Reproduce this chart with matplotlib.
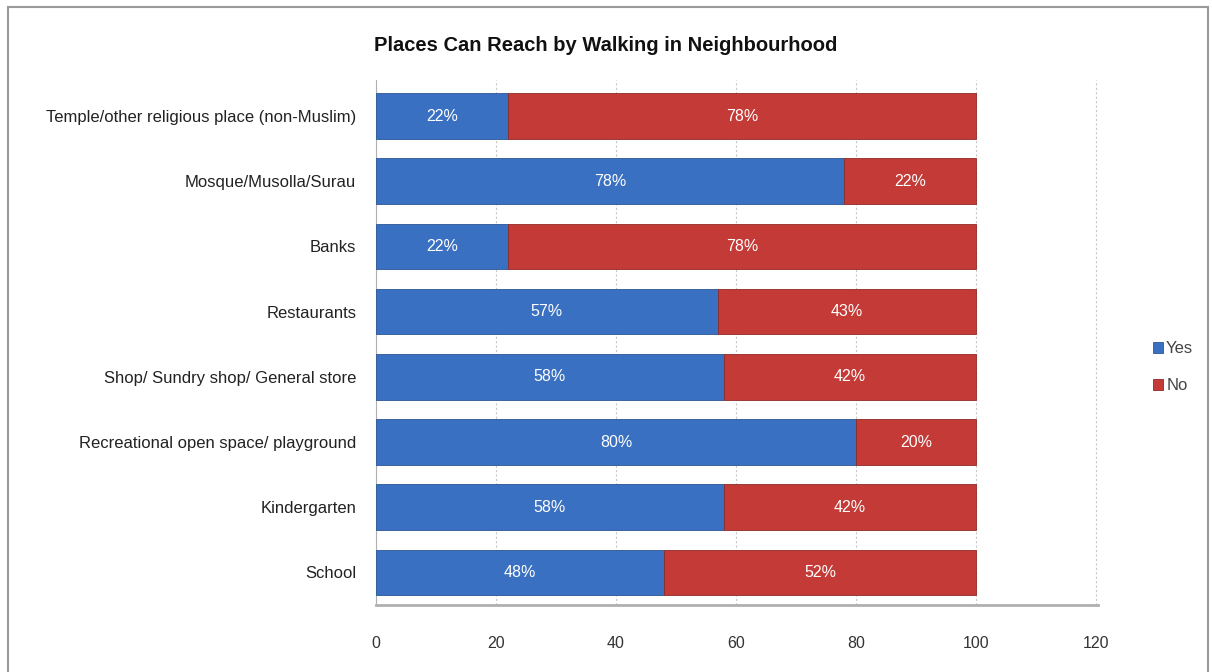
import matplotlib
matplotlib.use("Agg")
import matplotlib.pyplot as plt
from matplotlib.patches import Rectangle
import numpy as np

categories = ["School", "Kindergarten", "Recreational open space/ playground",
              "Shop/ Sundry shop/ General store", "Restaurants", "Banks",
              "Mosque/Musolla/Surau", "Temple/other religious place (non-Muslim)"]
yes_vals = [48, 58, 80, 58, 57, 22, 78, 22]
no_vals = [52, 42, 20, 42, 43, 78, 22, 78]
xticks = [0, 20, 40, 60, 80, 100, 120]

plt.rcParams['font.family'] = ['Liberation Sans', 'DejaVu Sans']

fig = plt.figure(figsize=(12.12, 6.72), dpi=100)
fig.patches.append(Rectangle((0.007, -0.01), 0.99, 1.0, transform=fig.transFigure,
                             fill=False, edgecolor='#9a9a9a', linewidth=1.5))
ax = fig.add_axes([0.310, 0.0997, 0.596, 0.781])

yes_color = '#3a70c2'
no_color = '#c33a36'
y = np.arange(len(categories))
h = 0.70
b1 = ax.barh(y, yes_vals, height=h, color=yes_color, edgecolor='#2a5696', linewidth=0.6, label='Yes', zorder=3)
b2 = ax.barh(y, no_vals, left=yes_vals, height=h, color=no_color, edgecolor='#8e2a27', linewidth=0.6, label='No', zorder=3)

for i in range(len(categories)):
    ax.text(yes_vals[i] / 2, y[i], f"{yes_vals[i]}%", ha='center', va='center', color='white', fontsize=11.5, zorder=4)
    ax.text(yes_vals[i] + no_vals[i] / 2, y[i], f"{no_vals[i]}%", ha='center', va='center', color='white', fontsize=11.5, zorder=4)

ax.set_xlim(0, 120.3)
ax.set_ylim(-0.5, 7.55)
ax.set_xticks(xticks)
ax.set_xticklabels([str(t) for t in xticks], fontsize=11.5, color='#333333')
ax.set_yticks(y)
ax.set_yticklabels(categories, fontsize=12, color='#222222')
ax.tick_params(axis='x', length=0, pad=22)
ax.tick_params(axis='y', length=0, pad=14)
ax.grid(axis='x', color='#c8c8c8', linestyle=(0, (2, 2)), linewidth=0.8, zorder=0)
for s in ['top', 'right']:
    ax.spines[s].set_visible(False)
ax.spines['left'].set_color('#b0b0b0')
ax.spines['bottom'].set_color('#b0b0b0')
ax.spines['bottom'].set_linewidth(2)

fig.text(0.5, 0.933, "Places Can Reach by Walking in Neighbourhood", ha='center', va='center',
         fontsize=14.5, fontweight='bold', color='#111111')

leg = ax.legend(handles=[b1, b2], labels=['Yes', 'No'], loc='center left',
                bbox_to_anchor=(1.055, 0.453), frameon=False, fontsize=12,
                handlelength=0.6, handleheight=0.6, handletextpad=0.2, labelspacing=1.3)
for t in leg.get_texts():
    t.set_color('#444444')

fig.savefig("out.png", dpi=100)
